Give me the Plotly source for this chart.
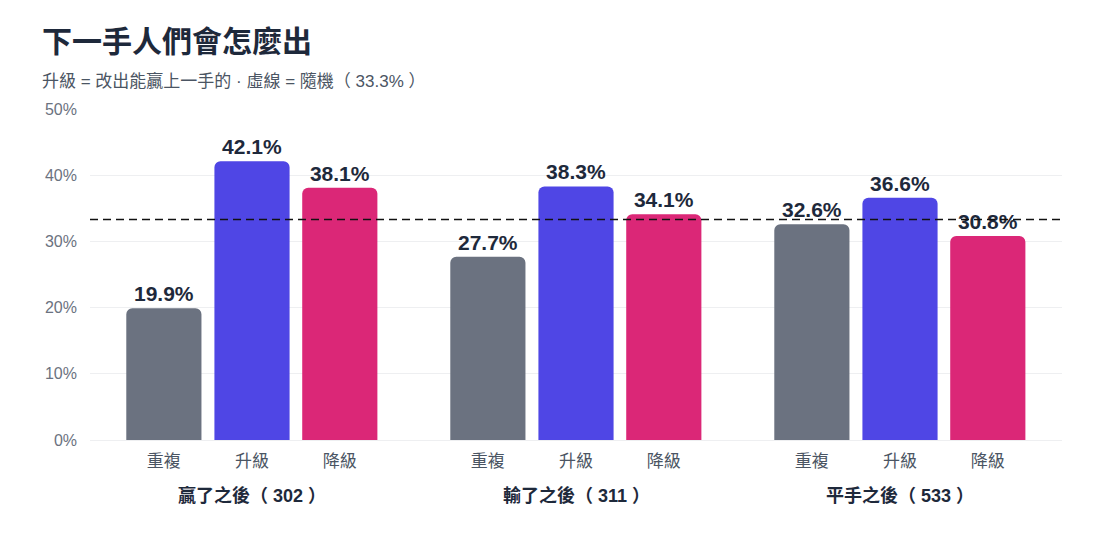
import plotly.graph_objects as go

groups = ["贏了之後（ 302 ）", "輸了之後（ 311 ）", "平手之後（ 533 ）"]
subs = ["重複", "升級", "降級"]
repeat_vals = [19.9, 27.7, 32.6]
upgrade_vals = [42.1, 38.3, 36.6]
downgrade_vals = [38.1, 34.1, 30.8]
random_line = 33.3
y_ticks = [0, 10, 20, 30, 40, 50]

series = [repeat_vals, upgrade_vals, downgrade_vals]
colors = ["#6b7280", "#4f46e5", "#db2777"]
offsets = [-0.272, 0.0, 0.271]
bar_w = 0.232

FONT = "Liberation Sans, Noto Sans CJK TC, sans-serif"

fig = go.Figure()
tickvals, ticktext = [], []
for s, (name, vals, col, off) in enumerate(zip(subs, series, colors, offsets)):
    xs = [g + off for g in range(len(groups))]
    tickvals += xs
    ticktext += [name] * len(groups)
    fig.add_trace(go.Bar(
        x=xs, y=vals, name=name, width=bar_w,
        marker=dict(color=col, cornerradius=6, line=dict(width=0)),
        text=[f"{v:.1f}%" for v in vals], textposition="outside",
        textfont=dict(family=FONT, size=21, color="#1e293b", weight="bold"),
        cliponaxis=False, hoverinfo="skip",
    ))

fig.add_shape(type="line", xref="paper", yref="y", x0=0, x1=1,
              y0=random_line, y1=random_line,
              line=dict(color="#111111", width=1.5, dash="8px,5px"), layer="above")

annotations = []
for g, lab in enumerate(groups):
    annotations.append(dict(x=g, y=0, xref="x", yref="paper", yshift=-55, yanchor="middle",
                            text=f"<b>{lab}</b>", showarrow=False,
                            font=dict(family=FONT, size=18, color="#1e293b")))
annotations.append(dict(text="升級 = 改出能贏上一手的 · 虛線 = 隨機（ 33.3% ）", xref="paper", yref="paper",
                        x=-0.0514, y=1.0, yshift=28, xanchor="left", yanchor="middle", showarrow=False,
                        font=dict(family=FONT, size=17, color="#4b5563")))

fig.update_layout(
    width=1100, height=560,
    margin=dict(l=82, r=46, t=101, b=128),
    paper_bgcolor="white", plot_bgcolor="white",
    showlegend=False,
    title=dict(text="<b>下一手人們會怎麼出</b>", x=0, xref="container", xanchor="left",
               y=0.959, yanchor="top", pad=dict(l=34),
               font=dict(family=FONT, size=30, color="#1e293b")),
    xaxis=dict(range=[-0.5, 2.5], tickvals=tickvals, ticktext=ticktext,
               showgrid=False, zeroline=False, showline=True, linecolor="#eeeff1", linewidth=1,
               ticks="", ticklabelstandoff=6,
               tickfont=dict(family=FONT, size=17, color="#4b5563")),
    yaxis=dict(range=[0, 50], tickvals=y_ticks, ticktext=[f"{v}%" for v in y_ticks],
               showgrid=True, gridcolor="#eeeff1", gridwidth=1, zeroline=False,
               tickfont=dict(family=FONT, size=16, color="#6b7280"), ticks="",
               ticklabelstandoff=12),
    annotations=annotations,
)

fig.write_html("out.html")
